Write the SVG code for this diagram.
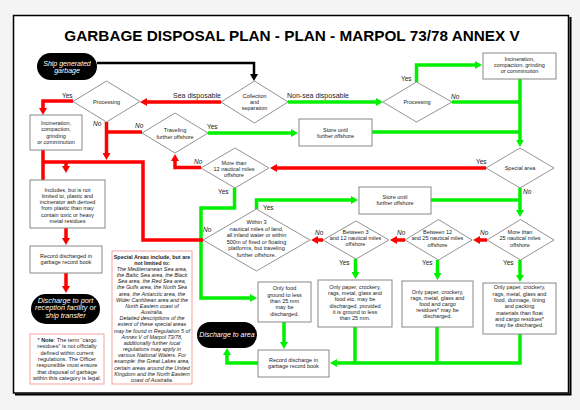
<svg xmlns="http://www.w3.org/2000/svg" width="580" height="410" viewBox="0 0 580 410">
<defs>
<style>
text{font-family:"Liberation Sans",Arial,Helvetica,sans-serif;fill:#222}
.t{font-size:5.5px;text-anchor:middle}
.w{font-size:7px;font-style:italic;fill:#fff;text-anchor:middle}
.y{font-size:6.5px}
.n{font-size:6.5px;font-style:italic}
.s{font-size:7px}
.d{fill:#fff;stroke:#777;stroke-width:0.8}
.b{fill:#fff;stroke:#888;stroke-width:1}
.p{fill:#fff;stroke:#f5a3a3;stroke-width:1}
.k{fill:#000}
.r{fill:none;stroke:#ff0000;stroke-width:3.5}
.g{fill:none;stroke:#00f000;stroke-width:3.5}
.kl{fill:none;stroke:#000;stroke-width:2.5}
.ra{marker-end:url(#mr)}
.ga{marker-end:url(#mg)}
</style>
<marker id="mr" viewBox="0 0 7 8" refX="0" refY="4" markerWidth="7" markerHeight="8" markerUnits="userSpaceOnUse" orient="auto"><path d="M0,0L7,4L0,8z" fill="#ff0000"/></marker>
<marker id="mg" viewBox="0 0 7 8" refX="0" refY="4" markerWidth="7" markerHeight="8" markerUnits="userSpaceOnUse" orient="auto"><path d="M0,0L7,4L0,8z" fill="#00f000"/></marker>
<marker id="mk" viewBox="0 0 7 8" refX="0" refY="4" markerWidth="7" markerHeight="8" markerUnits="userSpaceOnUse" orient="auto"><path d="M0,0L7,4L0,8z" fill="#000"/></marker>
</defs>
<rect x="0" y="0" width="580" height="410" fill="#f4f4f4"/>
<rect x="13.5" y="15.5" width="555" height="377.5" fill="#fff" stroke="#000" stroke-width="1.5"/>
<path d="M15,394.5H570.5V17" fill="none" stroke="#000" stroke-width="2"/>
<text x="292" y="40.5" text-anchor="middle" style="font-size:15.3px;font-weight:bold;fill:#000">GARBAGE DISPOSAL PLAN - PLAN - MARPOL 73/78 ANNEX V</text>

<g id="connectors">
<path class="kl" d="M97,63H254V74" marker-end="url(#mk)"/>
<path class="g ga" d="M288,102H376"/>
<path class="g ga" d="M416.5,82V65H475"/>
<path class="g ga" d="M520,79V140"/>
<path class="g" d="M452,102H520"/>
<path class="g" d="M372,132H520"/>
<path class="g ga" d="M208,133H291"/>
<path class="g ga" d="M520,188V210"/>
<path class="g" d="M431,200H520"/>
<path class="g ga" d="M234.5,188V208H201V298H250"/>
<path class="g ga" d="M256.5,209V200H351"/>
<path class="g ga" d="M355.5,259V272"/>
<path class="g ga" d="M437.5,260V273"/>
<path class="g ga" d="M520,260V275"/>
<path class="g ga" d="M284,322V342"/>
<path class="g" d="M355,327V363"/>
<path class="g" d="M437,327V363"/>
<path class="g ga" d="M520,334V363H337"/>
<path class="g ga" d="M258,363H227V355"/>
<path class="r ra" d="M221,102H147"/>
<path class="r ra" d="M73,101H43V108"/>
<path class="r ra" d="M106.5,122V153"/>
<path class="r" d="M106.5,132H142"/>
<path class="r" d="M43,150V180"/>
<path class="r" d="M43,162H143V240H203"/>
<path class="r ra" d="M66,162V166"/>
<path class="r ra" d="M66,228V238"/>
<path class="r ra" d="M66,273V286"/>
<path class="r ra" d="M201,167.5H175V161"/>
<path class="r ra" d="M486,168H277"/>
<path class="r ra" d="M323,240H318"/>
<path class="r ra" d="M405,240H397"/>
<path class="r ra" d="M487,240H480"/>
<g id="labels">
<text class="s" x="173" y="97.5">Sea disposable</text>
<text class="s" x="287" y="97.5">Non-sea disposable</text>
<text class="y" x="62" y="97.5">Yes</text>
<text class="y" x="207" y="129">Yes</text>
<text class="y" x="218" y="194">Yes</text>
<text class="y" x="263" y="209.5">Yes</text>
<text class="y" x="339" y="264.5">Yes</text>
<text class="y" x="422" y="264.5">Yes</text>
<text class="y" x="503" y="264.5">Yes</text>
<text class="y" x="401" y="81">Yes</text>
<text class="y" x="476" y="164">Yes</text>
<text class="n" x="93" y="126">No</text>
<text class="n" x="135" y="128">No</text>
<text class="n" x="194" y="164">No</text>
<text class="n" x="203" y="232">No</text>
<text class="n" x="315" y="234.5">No</text>
<text class="n" x="397" y="234.5">No</text>
<text class="n" x="480" y="234.5">No</text>
<text class="n" x="451" y="98.5">No</text>
<text class="n" x="523" y="193.5">No</text>
</g>
</g>

<g id="ship-garbage">
<rect class="k" x="37" y="53" width="60" height="27" rx="13.5"/>
<text class="w"><tspan x="67" y="65.8">Ship generated</tspan><tspan x="67" y="73.2">garbage</tspan></text>
</g>
<g id="collection">
<polygon class="d" points="221,102 254.5,81 288,102 254.5,123"/>
<text class="t"><tspan x="254.5" y="97.7">Collection</tspan><tspan x="254.5" y="103.8">and</tspan><tspan x="254.5" y="110">separation</tspan></text>
</g>
<g id="processing-left">
<polygon class="d" points="73,101.5 106.5,81 140,101.5 106.5,122"/>
<text class="t" x="106.5" y="104">Processing</text>
</g>
<g id="processing-right">
<polygon class="d" points="383,102 416.5,82 452,102 416.5,122"/>
<text class="t" x="417" y="103.8">Processing</text>
</g>
<g id="incineration-right">
<rect class="b" x="483" y="53" width="73" height="26"/>
<text class="t"><tspan x="519.5" y="61.3">Incineration,</tspan><tspan x="519.5" y="67.3">compaction, grinding</tspan><tspan x="519.5" y="73.2">or comminution</tspan></text>
</g>
<g id="incineration-left">
<rect class="b" x="30" y="115" width="52" height="35"/>
<text class="t"><tspan x="56" y="125.3">Incineration,</tspan><tspan x="56" y="131.3">compaction,</tspan><tspan x="56" y="137.5">grinding</tspan><tspan x="56" y="143.5">or comminution</tspan></text>
</g>
<g id="traveling">
<polygon class="d" points="142,133 175,113 208,133 175,153"/>
<text class="t"><tspan x="175" y="132">Traveling</tspan><tspan x="175" y="138.5">further offshore</tspan></text>
</g>
<g id="store-1">
<rect class="b" x="299" y="119" width="73" height="27"/>
<text class="t"><tspan x="335.5" y="132">Store until</tspan><tspan x="335.5" y="138.2">further offshore</tspan></text>
</g>
<g id="more-than-12">
<polygon class="d" points="201,168 235,148 269,168 235,188"/>
<text class="t"><tspan x="234" y="164.7">More than</tspan><tspan x="234" y="171">12 nautical miles</tspan><tspan x="234" y="177">offshore</tspan></text>
</g>
<g id="special-area">
<polygon class="d" points="486,168 520,148 554,168 520,188"/>
<text class="t" x="520" y="169.8">Special area</text>
</g>
<g id="includes">
<rect class="b" x="30" y="180" width="75" height="48"/>
<text class="t"><tspan x="67.5" y="191.5">Includes, but is not</tspan><tspan x="67.5" y="197.8">limited to, plastic and</tspan><tspan x="67.5" y="204">incinerator ash derived</tspan><tspan x="67.5" y="210.3">from plastic than may</tspan><tspan x="67.5" y="216.6">contain toxic or heavy</tspan><tspan x="67.5" y="223">metal residues</tspan></text>
</g>
<g id="store-2">
<rect class="b" x="359" y="187" width="72" height="27"/>
<text class="t"><tspan x="395" y="198.7">Store until</tspan><tspan x="395" y="205.3">further offshore</tspan></text>
</g>
<g id="within-3">
<polygon class="d" points="203,240 256.5,209 310,240 256.5,271"/>
<text class="t" style="font-size:5.6px"><tspan x="256.5" y="224.3">Within 3</tspan><tspan x="256.5" y="231">nautical miles of land,</tspan><tspan x="256.5" y="237.3">all inland water or within</tspan><tspan x="256.5" y="243.7">500m of fixed or floating</tspan><tspan x="256.5" y="250.3">platforms, but traveling</tspan><tspan x="256.5" y="257">further offshore.</tspan></text>
</g>
<g id="between-3-12">
<polygon class="d" points="323,240 356,221 389,240 356,259"/>
<text class="t"><tspan x="355.5" y="234.3">Between 3</tspan><tspan x="355.5" y="240.3">and 12 nautical miles</tspan><tspan x="355.5" y="246.3">offshore</tspan></text>
</g>
<g id="between-12-25">
<polygon class="d" points="405,240 438.5,219.5 472,240 438.5,260"/>
<text class="t"><tspan x="437.5" y="234.3">Between 12</tspan><tspan x="437.5" y="240.3">and 25 nautical miles</tspan><tspan x="437.5" y="246.5">offshore</tspan></text>
</g>
<g id="more-than-25">
<polygon class="d" points="487,240 520.5,219.5 554,240 520.5,260"/>
<text class="t"><tspan x="520" y="234.3">More than</tspan><tspan x="520" y="240.3">25 nautical miles</tspan><tspan x="520" y="246.5">offshore</tspan></text>
</g>
<g id="record-left">
<rect class="b" x="30" y="246" width="72" height="27"/>
<text class="t"><tspan x="66" y="258">Record discharged in</tspan><tspan x="66" y="264.3">garbage record book</tspan></text>
</g>
<g id="discharge-port">
<rect class="k" x="31" y="294" width="69" height="30" rx="15"/>
<text class="w" style="font-size:7.3px"><tspan x="65.5" y="302.6">Discharge to port</tspan><tspan x="65.5" y="310.4">reception facility or</tspan><tspan x="65.5" y="318.2">ship transfer</tspan></text>
</g>
<g id="note">
<rect class="p" x="30" y="334" width="74" height="50"/>
<text class="t" style="font-size:5.6px"><tspan x="67" y="342">* <tspan style="font-weight:bold">Note</tspan>: The term “cargo</tspan><tspan x="67" y="348.3">residues” is not officially</tspan><tspan x="67" y="354.6">defined within current</tspan><tspan x="67" y="360.9">regulations. The Officer</tspan><tspan x="67" y="367.2">responsible must ensure</tspan><tspan x="67" y="373.5">that disposal of garbage</tspan><tspan x="67" y="379.8">within this category is legal.</tspan></text>
</g>
<g id="special-areas">
<rect class="p" x="112" y="251" width="80" height="133"/>
<text class="t" style="font-size:5.4px"><tspan x="152" y="258.6" style="font-weight:bold">Special Areas include, but are</tspan><tspan x="152" dy="6.17" style="font-weight:bold">not limited to:</tspan><tspan style="font-style:italic"><tspan x="152" dy="6.17">The Mediterranean Sea area,</tspan><tspan x="152" dy="6.17">the Baltic Sea area, the Black</tspan><tspan x="152" dy="6.17">Sea area, the Red Sea area,</tspan><tspan x="152" dy="6.17">the Gulfs area, the North Sea</tspan><tspan x="152" dy="6.17">area, the Antarctic area, the</tspan><tspan x="152" dy="6.17">Wider Caribbean area and the</tspan><tspan x="152" dy="6.17">North Eastern coast of</tspan><tspan x="152" dy="6.17">Australia.</tspan><tspan x="152" dy="6.17">Detailed descriptions of the</tspan><tspan x="152" dy="6.17">extent of these special areas</tspan><tspan x="152" dy="6.17">may be found in Regulation 5 of</tspan><tspan x="152" dy="6.17">Annex V of Marpol 73/78,</tspan><tspan x="152" dy="6.17">additionally further local</tspan><tspan x="152" dy="6.17">regulations may apply in</tspan><tspan x="152" dy="6.17">various National Waters. For</tspan><tspan x="152" dy="6.17">example: the Great Lakes area,</tspan><tspan x="152" dy="6.17">certain areas around the United</tspan><tspan x="152" dy="6.17">Kingdom and the North Eastern</tspan><tspan x="152" dy="6.17">coast of Australia.</tspan></tspan></text>
</g>
<g id="only-food">
<rect class="b" x="258" y="282" width="53" height="40"/>
<text class="t"><tspan x="284.5" y="290.3">Only food</tspan><tspan x="284.5" y="296.8">ground to less</tspan><tspan x="284.5" y="303">than 25 mm</tspan><tspan x="284.5" y="309.3">may be</tspan><tspan x="284.5" y="315.5">discharged.</tspan></text>
</g>
<g id="only-paper-3-12">
<rect class="b" x="318" y="280" width="74" height="47"/>
<text class="t"><tspan x="355" y="288.7">Only paper, crockery,</tspan><tspan x="355" y="295">rags, metal, glass and</tspan><tspan x="355" y="301.4">food etc. may be</tspan><tspan x="355" y="307.7">discharged, provided</tspan><tspan x="355" y="314">it is ground to less</tspan><tspan x="355" y="320.3">than 25 mm.</tspan></text>
</g>
<g id="only-paper-12-25">
<rect class="b" x="402" y="281" width="71" height="46"/>
<text class="t"><tspan x="437.5" y="293.7">Only paper, crockery,</tspan><tspan x="437.5" y="299.8">rags, metal, glass and</tspan><tspan x="437.5" y="306">food and cargo</tspan><tspan x="437.5" y="312">residues* may be</tspan><tspan x="437.5" y="318">discharged.</tspan></text>
</g>
<g id="only-paper-25">
<rect class="b" x="483" y="283" width="73" height="51"/>
<text class="t"><tspan x="519.5" y="289.3">Only paper, crockery,</tspan><tspan x="519.5" y="295.6">rags, metal, glass and</tspan><tspan x="519.5" y="302">food, dunnage, lining</tspan><tspan x="519.5" y="308.4">and packing</tspan><tspan x="519.5" y="314.8">materials than float</tspan><tspan x="519.5" y="321">and cargo residues*</tspan><tspan x="519.5" y="327.2">may be discharged.</tspan></text>
</g>
<g id="discharge-area">
<rect class="k" x="197" y="322" width="60" height="26" rx="13"/>
<text class="w" x="227" y="337.3">Discharge to area</text>
</g>
<g id="record-bottom">
<rect class="b" x="258" y="350" width="71" height="27"/>
<text class="t"><tspan x="293.5" y="362">Record discharge in</tspan><tspan x="293.5" y="368.2">garbage record book</tspan></text>
</g>
</svg>
